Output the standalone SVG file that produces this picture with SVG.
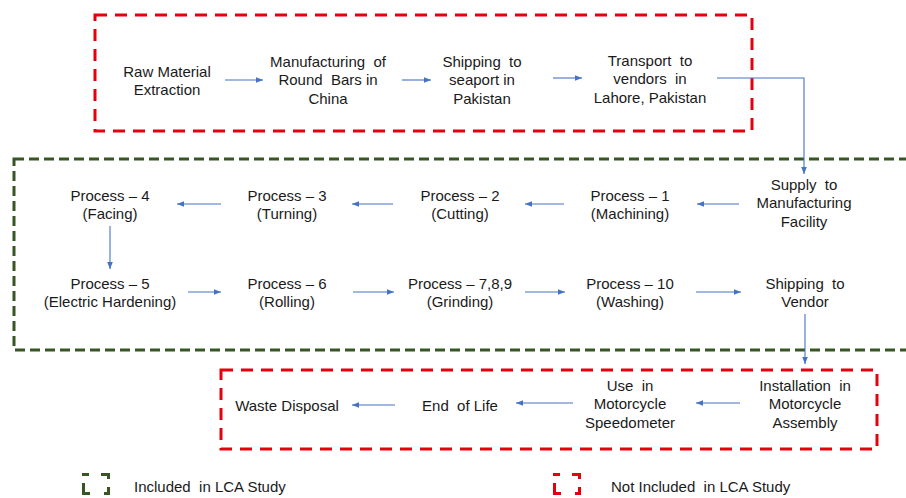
<svg xmlns="http://www.w3.org/2000/svg" width="906" height="498" viewBox="0 0 906 498">
<style>
text{font-family:"Liberation Sans",Arial,sans-serif;font-size:15px;fill:#1a1a1a;text-anchor:middle;white-space:pre}
.red{fill:none;stroke:#e3000f;stroke-width:3;stroke-dasharray:12 8}
.grn{fill:none;stroke:#375623;stroke-width:3;stroke-dasharray:10 5}
.ri{fill:none;stroke:#e3000f;stroke-width:3}
.gi{fill:none;stroke:#375623;stroke-width:3}
.c{fill:none;stroke:#4472c4;stroke-width:1.1;marker-end:url(#ah)}
.lg{text-anchor:start}
</style>
<defs>
<marker id="ah" viewBox="0 0 10 10" refX="10" refY="5" markerWidth="7" markerHeight="7" orient="auto" markerUnits="userSpaceOnUse">
<path d="M0,1 L10,5 L0,9 z" fill="#4472c4"/>
</marker>
</defs>
<g id="boundaries">
<rect class="red" x="95" y="15" width="657" height="116"/>
<rect class="grn" x="14" y="159" width="900" height="191"/>
<rect class="red" x="221" y="370" width="656" height="79"/>
</g>
<g id="connectors">
<line class="c" x1="225" y1="80" x2="263" y2="80"/>
<line class="c" x1="402" y1="80" x2="431" y2="80"/>
<line class="c" x1="553" y1="78" x2="582" y2="78"/>
<path class="c" d="M717,78 H804 V174"/>
<line class="c" x1="739" y1="204" x2="697" y2="204"/>
<line class="c" x1="564" y1="204" x2="525" y2="204"/>
<line class="c" x1="393" y1="204" x2="352" y2="204"/>
<line class="c" x1="221" y1="204" x2="177" y2="204"/>
<line class="c" x1="110" y1="226" x2="110" y2="269"/>
<line class="c" x1="188" y1="292" x2="221" y2="292"/>
<line class="c" x1="353" y1="292" x2="394" y2="292"/>
<line class="c" x1="525" y1="292" x2="565" y2="292"/>
<line class="c" x1="696" y1="292" x2="741" y2="292"/>
<line class="c" x1="805" y1="314" x2="805" y2="364"/>
<line class="c" x1="740" y1="403" x2="696" y2="403"/>
<line class="c" x1="573" y1="403" x2="516" y2="403"/>
<line class="c" x1="395" y1="405" x2="352" y2="405"/>
</g>
<g id="n-raw"><text x="167" y="77">Raw Material</text><text x="167" y="95">Extraction</text></g>
<g id="n-manuf"><text x="328" y="67">Manufacturing  of</text><text x="328" y="85">Round  Bars in</text><text x="328" y="104">China</text></g>
<g id="n-ship"><text x="482" y="67">Shipping  to</text><text x="482" y="85">seaport in</text><text x="482" y="104">Pakistan</text></g>
<g id="n-transport"><text x="650" y="66">Transport  to</text><text x="650" y="84">vendors  in</text><text x="650" y="103">Lahore, Pakistan</text></g>
<g id="n-supply"><text x="804" y="190">Supply  to</text><text x="804" y="208">Manufacturing</text><text x="804" y="227">Facility</text></g>
<g id="n-p1"><text x="630" y="201">Process – 1</text><text x="630" y="219">(Machining)</text></g>
<g id="n-p2"><text x="460" y="201">Process – 2</text><text x="460" y="219">(Cutting)</text></g>
<g id="n-p3"><text x="287" y="201">Process – 3</text><text x="287" y="219">(Turning)</text></g>
<g id="n-p4"><text x="110" y="201">Process – 4</text><text x="110" y="219">(Facing)</text></g>
<g id="n-p5"><text x="110" y="289">Process – 5</text><text x="110" y="307">(Electric Hardening)</text></g>
<g id="n-p6"><text x="287" y="289">Process – 6</text><text x="287" y="307">(Rolling)</text></g>
<g id="n-p7"><text x="460" y="289">Process – 7,8,9</text><text x="460" y="307">(Grinding)</text></g>
<g id="n-p10"><text x="630" y="289">Process – 10</text><text x="630" y="307">(Washing)</text></g>
<g id="n-shipvendor"><text x="805" y="289">Shipping  to</text><text x="805" y="307">Vendor</text></g>
<g id="n-install"><text x="805" y="391">Installation  in</text><text x="805" y="409">Motorcycle</text><text x="805" y="428">Assembly</text></g>
<g id="n-use"><text x="630" y="391">Use  in</text><text x="630" y="409">Motorcycle</text><text x="630" y="428">Speedometer</text></g>
<g id="n-eol"><text x="460" y="411">End  of Life</text></g>
<g id="n-waste"><text x="287" y="411">Waste Disposal</text></g>
<g id="legend-included">
<path class="gi" d="M82,474.5 H89 M101,474.5 H108.5 V479 M83.5,483 V493.5 H90 M108.5,487 V493.5 H104"/>
<text class="lg" x="134" y="492">Included  in LCA Study</text>
</g>
<g id="legend-not-included">
<path class="ri" d="M553,474.5 H560 M572,474.5 H579.5 V479 M554.5,483 V493.5 H561 M579.5,487 V493.5 H575"/>
<text class="lg" x="611" y="492">Not Included  in LCA Study</text>
</g>
</svg>
